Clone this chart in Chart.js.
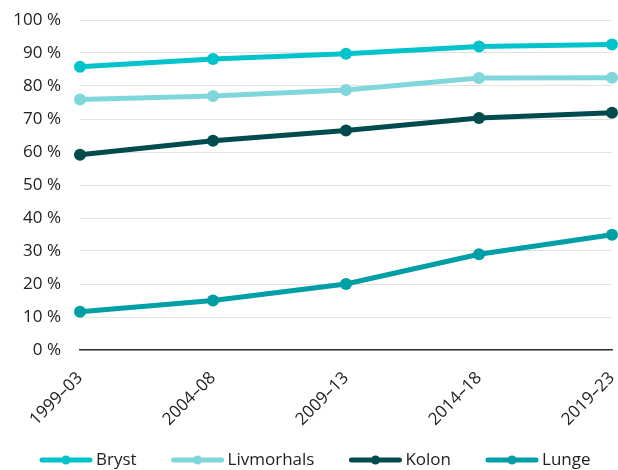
<!DOCTYPE html>
<html><head><meta charset="utf-8">
<script src="https://cdn.jsdelivr.net/npm/chart.js@4"></script>
<style>html,body{margin:0;padding:0;background:#fff}#wrap{width:618px;height:470px;position:relative}</style>
</head><body><div id="wrap"><canvas id="c"></canvas></div>
<script>
const categories = ['1999–03', '2004–08', '2009–13', '2014–18', '2019–23'];
const seriesNames = ['Bryst', 'Livmorhals', 'Kolon', 'Lunge'];
const bryst = [85.8, 88.2, 89.8, 92.0, 92.6];
const livmorhals = [75.9, 77.0, 78.8, 82.4, 82.5];
const kolon = [59.2, 63.4, 66.5, 70.3, 71.9];
const lunge = [11.6, 15.0, 20.0, 29.0, 34.9];
const yTicks = [0, 10, 20, 30, 40, 50, 60, 70, 80, 90, 100];

const colors = ['#00C3CB', '#80D7DB', '#004B4D', '#009EA5'];
const values = [bryst, livmorhals, kolon, lunge];
const FONT = "'Open Sans', 'Noto Sans', sans-serif";
const FS = 17;

const legendPlugin = {
  id: 'lineLegend',
  afterDraw(chart) {
    const ctx = chart.ctx;
    ctx.save();
    ctx.font = FS + 'px ' + FONT;
    ctx.textBaseline = 'middle';
    ctx.textAlign = 'left';
    const y = 460;
    const lineW = 52, gapT = 4, gapItem = 35;
    let x = 40;
    chart.data.datasets.forEach((ds, i) => {
      ctx.strokeStyle = ds.borderColor;
      ctx.lineWidth = 5;
      ctx.lineCap = 'round';
      ctx.beginPath();
      ctx.moveTo(x + 2, y);
      ctx.lineTo(x + lineW - 2, y);
      ctx.stroke();
      ctx.fillStyle = ds.borderColor;
      ctx.beginPath();
      ctx.arc(x + lineW / 2, y, 4.5, 0, Math.PI * 2);
      ctx.fill();
      ctx.fillStyle = '#222';
      ctx.fillText(ds.label, x + lineW + gapT, y);
      x += lineW + gapT + ctx.measureText(ds.label).width + gapItem;
    });
    ctx.restore();
  }
};

new Chart(document.getElementById('c'), {
  type: 'line',
  data: {
    labels: categories,
    datasets: seriesNames.map((n, i) => ({
      label: n,
      data: values[i],
      borderColor: colors[i],
      backgroundColor: colors[i],
      borderWidth: 5,
      pointRadius: 6,
      pointBorderWidth: 0,
      pointBackgroundColor: colors[i],
      tension: 0,
      clip: false
    }))
  },
  options: {
    responsive: true,
    maintainAspectRatio: false,
    animation: false,
    layout: { padding: { top: 20, right: 4, bottom: 40, left: 0 } },
    plugins: { legend: { display: false }, tooltip: { enabled: false } },
    scales: {
      x: {
        grid: { display: false, drawTicks: false },
        border: { display: true, color: '#333', width: 1.5 },
        ticks: { minRotation: 45, maxRotation: 45, color: '#222', font: { size: FS, family: FONT }, padding: 18 },
        afterFit: s => { s.height = 80; s.paddingLeft = 0; s.paddingRight = 0; }
      },
      y: {
        min: 0, max: 100,
        afterBuildTicks: s => { s.ticks = yTicks.map(v => ({ value: v })); },
        grid: { color: '#e2e2e2', lineWidth: 1, drawTicks: false },
        border: { display: false },
        ticks: { color: '#222', font: { size: FS, family: FONT }, padding: 19, callback: v => v + ' %' },
        afterFit: s => { s.width = 80; s.paddingTop = 0; s.paddingBottom = 0; }
      }
    }
  },
  plugins: [legendPlugin]
});
</script></body></html>
